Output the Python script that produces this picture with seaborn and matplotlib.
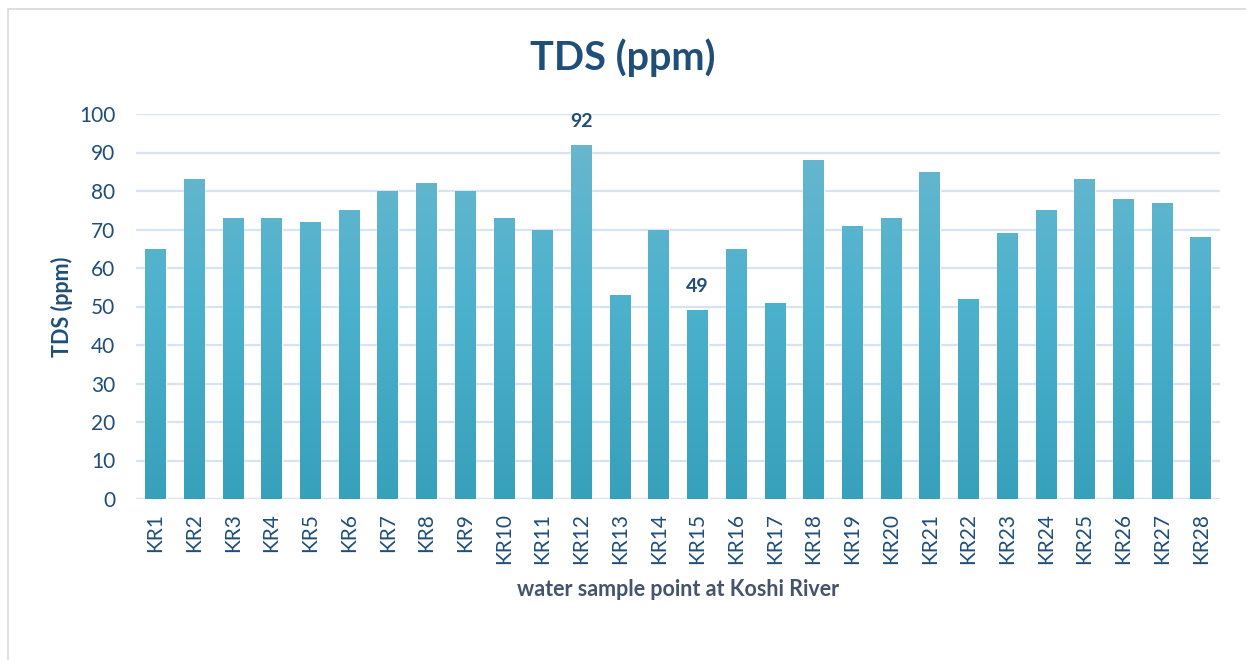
import numpy as np
import pandas as pd
import matplotlib
matplotlib.use("Agg")
import matplotlib.pyplot as plt
import seaborn as sns
from matplotlib.colors import LinearSegmentedColormap
from matplotlib.patches import Rectangle

categories = [f"KR{i}" for i in range(1, 29)]
values = [65, 83, 73, 73, 72, 75, 80, 82, 80, 73, 70, 92, 53, 70,
          49, 65, 51, 88, 71, 73, 85, 52, 69, 75, 83, 78, 77, 68]
annotated = ["KR12", "KR15"]
yticks = [0, 10, 20, 30, 40, 50, 60, 70, 80, 90, 100]

title = "TDS (ppm)"
ylabel = "TDS (ppm)"
xlabel = "water sample point at Koshi River"

TXT = "#1F4E79"
XLAB = "#44546A"
GRID = "#D6E3F3"

sns.set_theme(style="white")
plt.rcParams['font.family'] = ['Lato', 'DejaVu Sans']

df = pd.DataFrame({"site": categories, "tds": values})

fig = plt.figure(figsize=(12.46, 6.6), dpi=100)
ax = fig.add_axes([136/1246, 1-499/660, (1220-136)/1246, (499-114)/660])

sns.barplot(data=df, x="site", y="tds", color="#4BB0CC", width=0.53,
            saturation=1, ax=ax, zorder=3)

cmap = LinearSegmentedColormap.from_list("g", ["#37A0BB", "#4CB1CD", "#6DB8CD"])
grad = np.linspace(0, 1, 256).reshape(-1, 1)
for p in ax.patches:
    x0 = p.get_x()
    w = p.get_width()
    im = ax.imshow(grad, cmap=cmap, origin="lower", aspect="auto",
                   extent=[x0, x0 + w, 0, 100], zorder=4,
                   vmin=0, vmax=1)
    im.set_clip_path(p)
ax.set_xlim(-0.5, len(categories) - 0.5)
ax.set_ylim(0, 100)

ax.set_yticks(yticks)
for y in yticks:
    ax.axhline(y, color=GRID, lw=1.6, zorder=1)

for s in ax.spines.values():
    s.set_visible(False)
ax.tick_params(axis="both", length=0, colors=TXT)
ax.tick_params(axis="y", labelsize=15, pad=15)
ax.tick_params(axis="x", labelsize=15, pad=10)
plt.setp(ax.get_xticklabels(), rotation=90)
for t in ax.get_xticklabels() + ax.get_yticklabels():
    t.set_color(TXT)

ax.set_xlabel(xlabel, fontsize=15.5, fontweight="bold", color=XLAB, labelpad=11)
ax.set_ylabel(ylabel, fontsize=15.5, fontweight="bold", color=TXT, labelpad=4)

for i, (c, v) in enumerate(zip(categories, values)):
    if c in annotated:
        ax.annotate(f"{v}", (i, v), xytext=(0, 11), textcoords="offset points",
                    ha="center", va="bottom", fontsize=14, fontweight="bold",
                    color=TXT, zorder=6)

fig.text(0.5, 1 - 58/660, title, ha="center", va="center", fontsize=28.5,
         fontweight="bold", color=TXT)

fig.patches.append(Rectangle((8/1246, -0.1), 1.2, 1 - 9/660 + 0.1,
                             transform=fig.transFigure, fill=False,
                             edgecolor="#D9D9D9", lw=1.2))

fig.savefig("out.png", dpi=100)
